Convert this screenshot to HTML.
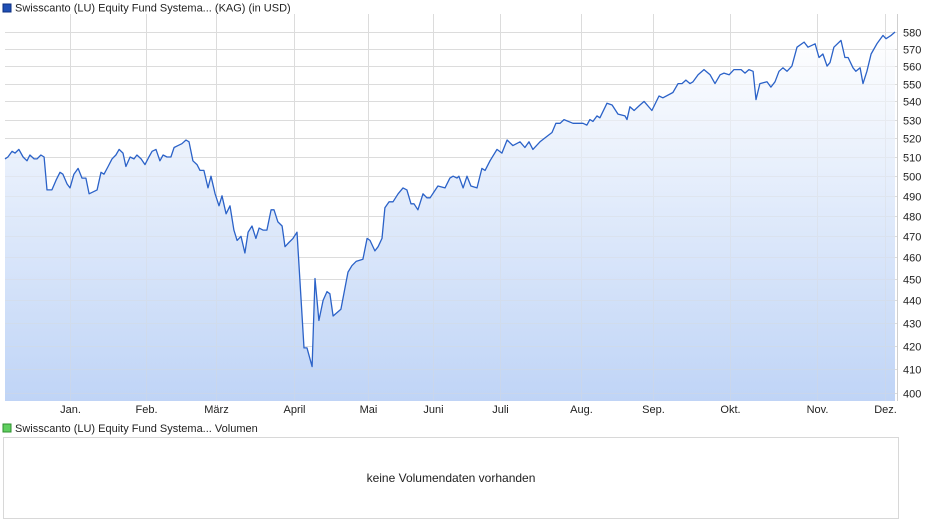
<!DOCTYPE html>
<html><head><meta charset="utf-8">
<style>
html,body{margin:0;padding:0;background:#fff;width:940px;height:526px;overflow:hidden;font-family:"Liberation Sans",sans-serif}
svg{display:block}
text{font-family:"Liberation Sans",sans-serif;fill:#222}
</style></head>
<body>
<svg id="chart" width="940" height="526">
<defs>
<linearGradient id="fillg" x1="0" y1="0" x2="0" y2="1">
<stop offset="0" stop-color="#ffffff"/>
<stop offset="1" stop-color="#bcd2f6"/>
</linearGradient>
</defs>
<rect x="3" y="4" width="8" height="8" fill="#1f4fb5" stroke="#0c2f80" stroke-width="1"/>
<text x="15" y="11.5" font-size="11">Swisscanto (LU) Equity Fund Systema... (KAG) (in USD)</text>
<g id="grid"></g>
<g id="series"></g>
<g id="yaxis"></g>
<g id="xaxis"></g>
<rect x="3" y="424" width="8" height="8" fill="#5fcf5f" stroke="#2f8f2f" stroke-width="1"/>
<text x="15" y="432" font-size="11">Swisscanto (LU) Equity Fund Systema... Volumen</text>
<rect x="3.5" y="437.5" width="895" height="81" fill="#fff" stroke="#d8d8d8"/>
<text x="451" y="482" font-size="12" text-anchor="middle">keine Volumendaten vorhanden</text>
</svg>
<script>
const yTicks = [400,410,420,430,440,450,460,470,480,490,500,510,520,530,540,550,560,570,580];
const monthLabels = ["Jan.","Feb.","März","April","Mai","Juni","Juli","Aug.","Sep.","Okt.","Nov.","Dez."];
const monthStarts = [0,31.1,59.8,91.7,122,148.6,176,209.2,238.7,270.2,305.6,333.6];
const days = [-26.6,-25.4,-23.7,-22.5,-20.9,-19.2,-17.6,-16.4,-14.7,-13.5,-11.9,-10.6,-9.4,-7.4,-5.7,-4.1,-2.9,-1.2,0,1.6,3.3,4.9,6.5,7.8,9.4,11.1,12.7,13.9,15.6,17.2,18.8,20.1,21.7,22.9,24.6,26.2,27.4,29.1,30.7,32.3,33.6,35.2,36.8,38.1,39.7,41.3,42.6,44.2,45.8,47.5,48.7,50.3,52.0,53.2,54.8,56.5,57.7,59.4,61.0,62.2,63.9,65.5,67.1,68.4,70.0,71.6,72.9,74.5,76.1,77.4,79.0,80.6,82.3,83.5,85.1,86.8,88.0,89.6,91.3,92.9,95.8,97.0,99.1,100.3,101.9,103.6,105.2,106.4,107.7,110.9,112.6,113.8,115.4,117.1,119.9,121.6,122.8,124.8,126.1,127.7,128.9,130.6,132.2,134.3,136.3,137.9,139.6,140.8,142.4,144.5,146.1,147.4,149.0,150.6,153.5,155.5,156.8,158.4,159.2,160.9,162.5,164.1,166.6,168.6,169.9,171.9,174.8,176.8,178.9,181.3,184.2,186.2,187.9,189.5,192.4,195.3,197.3,198.9,200.6,202.2,205.9,210.0,211.6,212.8,214.1,215.7,216.9,219.8,221.9,224.3,227.2,228.0,229.2,230.9,233.3,235.0,238.2,241.1,242.7,246.8,248.9,250.5,252.1,253.8,255.0,257.1,259.5,262.0,264.0,266.1,267.7,269.8,271.8,274.7,276.3,277.9,279.6,280.8,282.4,285.3,286.9,288.6,290.2,291.8,293.5,295.5,297.6,300.5,302.1,305.0,306.6,308.2,309.9,311.1,312.7,315.6,317.2,318.5,320.5,321.7,323.4,324.6,326.2,327.9,330.3,332.8,334.0,336.1,337.7];
const prices = [509,510,513,512,514,510,508,511,509,509,511,510,493,493,498,502,501,496,494,501,504,499,499,491,492,493,502,501,505,509,511,514,512,505,510,509,511,509,506,510,513,514,508,511,510,510,515,516,517,519,518,508,506,503,503,494,500,491,485,490,481,485,473,468,470,462,472,475,469,474,473,473,483,483,477,475,465,467,469,472,419,419,411,450,431,440,444,443,433,436,446,453,456,458,459,469,468,463,465,469,484,487,487,491,494,493,486,486,483,491,489,489,492,495,494,499,500,499,500,494,500,495,494,504,503,508,514,512,519,516,518,515,518,514,518,521,523,528,528,530,528,528,527,530,529,532,531,539,538,533,532,530,537,535,538,540,535,543,542,545,550,550,552,550,551,555,558,555,550,555,556,555,558,558,556,558,557,541,550,551,548,551,557,559,557,560,571,574,571,573,565,567,560,562,571,575,565,565,559,557,559,550,557,567,573,578,576,578,580];

const NS="http://www.w3.org/2000/svg";
const L=5, R=897, T=14, B=401;
const xScale = d => 70 + d*2.443;
const yScale = v => 32 - 971.5*Math.log(v/580);
function mk(tag, attrs, parent){const e=document.createElementNS(NS,tag);for(const k in attrs)e.setAttribute(k,attrs[k]);parent.appendChild(e);return e;}
const grid=document.getElementById('grid'), series=document.getElementById('series'), yax=document.getElementById('yaxis'), xax=document.getElementById('xaxis');

yTicks.forEach(t=>{
  const y=Math.round(yScale(t))+0.5;
  const g=mk('line',{x1:L,x2:R,y1:y,y2:y,stroke:'#dcdcdc','stroke-width':1},grid);
  
  
  const lb=mk('text',{x:903,y:y+4,'font-size':11},yax);
  lb.textContent=t;
  
  
});
monthStarts.forEach((d,i)=>{
  const x=Math.round(xScale(d))+0.5;
  const g=mk('line',{x1:x,x2:x,y1:T,y2:B,stroke:'#dcdcdc','stroke-width':1},grid);
  
  
  const lb=mk('text',{x:x,y:413,'font-size':11,'text-anchor':'middle'},xax);
  lb.textContent=monthLabels[i];
  
  
});
const frame=mk('line',{x1:R+0.5,x2:R+0.5,y1:T,y2:B,stroke:'#cfcfcf'},grid);



let pts=days.map((d,i)=>xScale(d).toFixed(1)+','+yScale(prices[i]).toFixed(1));
const area=mk('path',{d:'M'+xScale(days[0]).toFixed(1)+','+B+' L'+pts.join(' L')+' L'+xScale(days[days.length-1]).toFixed(1)+','+B+' Z',fill:'url(#fillg)','fill-opacity':0.95},series);


const gridClone=grid.cloneNode(true);
gridClone.setAttribute('opacity','0.35');
series.appendChild(gridClone);
const line=mk('polyline',{points:pts.join(' '),fill:'none',stroke:'#2b62c8','stroke-width':1.3,'stroke-linejoin':'round'},series);


</script>
</body></html>
